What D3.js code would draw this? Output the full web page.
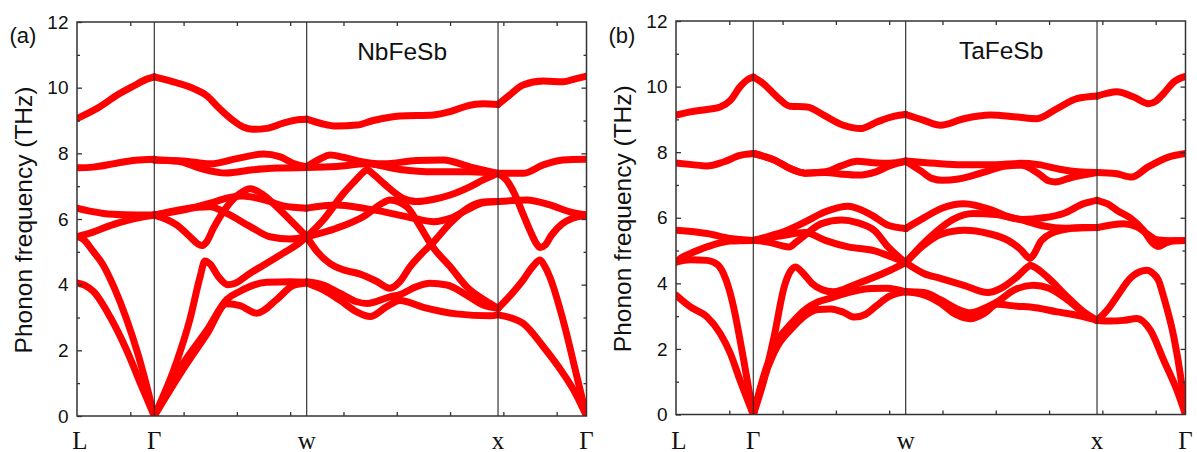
<!DOCTYPE html>
<html>
<head>
<meta charset="utf-8">
<script src="https://cdn.jsdelivr.net/npm/d3@7"></script>
<style>
  html, body { margin: 0; padding: 0; background: #fff; }
  svg { display: block; }
</style>
</head>
<body>
<svg id="chart" width="1197" height="452"></svg>
<script>
// Path through the fcc Brillouin zone: L - Γ - W - X - Γ (k in path units)
const kSym = [0, 1.45, 4.31, 7.90, 9.56];
const kLabels = ["L", "Γ", "w", "x", "Γ"];
const kTicks = [1, 2, 3, 4, 5, 6, 7, 8, 9];
const freqTicks = [0, 2, 4, 6, 8, 10, 12];
const freqMinor = [1, 3, 5, 7, 9, 11];
const compounds = ["NbFeSb", "TaFeSb"];
const panelTags = ["(a)", "(b)"];

// NbFeSb phonon branches, one list per path segment; each branch is [k, THz] pairs
const nbLG = [
  [[0,9.06],[0.43,9.42],[0.74,9.76],[1.06,10.05],[1.31,10.26],[1.45,10.33]],
  [[0,7.56],[0.3,7.58],[0.74,7.7],[1.1,7.79],[1.45,7.82]],
  [[0,6.33],[0.24,6.24],[0.5,6.17],[0.9,6.13],[1.45,6.12]],
  [[0,5.46],[0.3,5.6],[0.62,5.8],[0.93,5.95],[1.2,6.05],[1.45,6.12]],
  [[0,5.46],[0.12,5.38],[0.3,5.02],[0.49,4.6],[0.7,3.9],[0.93,2.95],[1.15,1.85],[1.31,0.9],[1.45,0]],
  [[0,4.05],[0.15,3.98],[0.31,3.79],[0.62,3.02],[0.93,2.01],[1.24,0.8],[1.45,0]]
];
const nbGW = [
  [[1.45,10.33],[1.87,10.15],[2.19,9.97],[2.44,9.75],[2.62,9.45],[2.93,9.0],[3.12,8.8],[3.3,8.73],[3.56,8.76],[3.87,8.92],[4.18,9.03],[4.31,9.04]],
  [[1.45,7.8],[2.0,7.77],[2.5,7.68],[3.0,7.84],[3.5,7.98],[3.8,7.9],[4.05,7.7],[4.31,7.59]],
  [[1.45,7.8],[1.9,7.76],[2.3,7.55],[2.8,7.4],[3.3,7.5],[3.8,7.55],[4.31,7.57]],
  [[1.45,6.12],[1.99,6.27],[2.5,6.48],[2.87,6.66],[3.1,6.7],[3.56,6.56],[3.87,6.4],[4.31,6.33]],
  [[1.45,6.12],[1.87,5.82],[2.12,5.46],[2.26,5.25],[2.34,5.19],[2.43,5.3],[2.56,5.72],[2.81,6.37],[3.06,6.78],[3.25,6.92],[3.5,6.73],[3.75,6.37],[4.0,5.97],[4.31,5.46]],
  [[1.45,6.12],[1.99,6.3],[2.5,6.37],[2.81,6.17],[3.25,5.77],[3.62,5.46],[4.0,5.39],[4.31,5.46]],
  [[1.45,0],[1.87,1.65],[2.12,2.95],[2.31,4.24],[2.4,4.72],[2.5,4.62],[2.65,4.25],[2.83,4.0],[2.95,4.03],[3.25,4.35],[3.56,4.65],[3.87,4.96],[4.12,5.21],[4.31,5.46]],
  [[1.45,0],[1.99,1.6],[2.44,2.62],[2.81,3.55],[3.06,3.8],[3.3,3.98],[3.56,4.07],[4.0,4.09],[4.31,4.07]],
  [[1.45,0],[1.99,1.42],[2.44,2.5],[2.81,3.42],[3.06,3.36],[3.37,3.13],[3.75,3.55],[4.06,3.98],[4.31,4.05]]
];
const nbWX = [
  [[4.31,9.04],[4.6,8.9],[4.87,8.83],[5.25,8.86],[5.56,9.0],[6.06,9.14],[6.69,9.17],[7.0,9.27],[7.31,9.44],[7.62,9.51],[7.9,9.49]],
  [[4.31,7.59],[4.55,7.82],[4.75,7.95],[5.0,7.88],[5.25,7.78],[5.75,7.68],[6.37,7.78],[6.87,7.8],[7.37,7.59],[7.9,7.39]],
  [[4.31,7.57],[4.87,7.6],[5.44,7.68],[6.06,7.51],[6.69,7.44],[7.37,7.44],[7.9,7.39]],
  [[4.31,5.46],[4.62,5.97],[5.0,6.78],[5.25,7.22],[5.37,7.42],[5.44,7.5],[5.55,7.38],[5.75,7.09],[6.12,6.63],[6.37,6.53],[6.7,6.6],[7.0,6.73],[7.37,6.98],[7.62,7.19],[7.9,7.39]],
  [[4.31,6.33],[4.87,6.43],[5.37,6.33],[5.87,6.18],[6.37,6.0],[6.69,5.92],[7.0,6.02],[7.31,6.27],[7.62,6.49],[7.9,6.53]],
  [[4.31,5.46],[4.87,5.72],[5.37,6.07],[5.75,6.5],[5.87,6.58],[6.19,6.37],[6.44,5.77],[6.67,5.16],[7.0,4.55],[7.31,3.94],[7.75,3.43],[7.9,3.28]],
  [[4.31,5.46],[4.5,5.02],[4.75,4.64],[5.0,4.45],[5.3,4.33],[5.6,4.12],[5.87,3.89],[6.05,4.08],[6.25,4.55],[6.5,5.0],[6.69,5.3],[7.0,5.87],[7.37,6.37],[7.62,6.52],[7.9,6.53]],
  [[4.31,4.09],[4.62,3.99],[4.93,3.74],[5.25,3.48],[5.44,3.43],[5.87,3.63],[6.06,3.7],[6.37,3.94],[6.62,4.04],[6.94,3.99],[7.31,3.68],[7.62,3.38],[7.9,3.28]],
  [[4.31,4.05],[4.62,3.84],[4.93,3.53],[5.25,3.17],[5.5,3.03],[5.81,3.33],[6.06,3.52],[6.5,3.31],[7.12,3.11],[7.75,3.05],[7.9,3.08]]
];
const nbXG = [
  [[7.9,9.49],[8.12,9.78],[8.37,10.08],[8.75,10.2],[9.12,10.18],[9.35,10.27],[9.56,10.35]],
  [[7.9,7.39],[8.37,7.39],[8.75,7.65],[9.12,7.8],[9.56,7.82]],
  [[7.9,6.53],[8.44,6.58],[8.87,6.43],[9.25,6.22],[9.56,6.12]],
  [[7.9,7.39],[8.05,7.2],[8.2,6.8],[8.37,6.15],[8.5,5.65],[8.62,5.25],[8.69,5.13],[8.78,5.2],[8.9,5.5],[9.1,5.85],[9.3,6.02],[9.56,6.12]],
  [[7.9,3.28],[8.1,3.62],[8.37,4.14],[8.55,4.55],[8.69,4.75],[8.78,4.55],[8.87,4.24],[9.12,2.92],[9.38,1.2],[9.56,0]],
  [[7.9,3.08],[8.12,3.0],[8.37,2.82],[8.75,2.11],[9.12,1.3],[9.35,0.7],[9.56,0]]
];

// TaFeSb phonon branches
const taLG = [
  [[0,9.13],[0.27,9.23],[0.58,9.3],[0.83,9.38],[1.02,9.58],[1.2,9.99],[1.35,10.22],[1.45,10.29]],
  [[0,7.67],[0.3,7.62],[0.58,7.58],[0.89,7.7],[1.2,7.9],[1.45,7.96]],
  [[0,5.62],[0.58,5.52],[1.02,5.37],[1.45,5.31]],
  [[0,4.65],[0.12,4.8],[0.27,4.91],[0.58,5.11],[1.02,5.29],[1.45,5.31]],
  [[0,4.65],[0.27,4.72],[0.58,4.7],[0.77,4.58],[0.89,4.3],[1.0,3.8],[1.08,3.28],[1.27,1.66],[1.45,0]],
  [[0,3.64],[0.27,3.28],[0.58,2.98],[0.83,2.47],[1.02,1.86],[1.2,1.05],[1.45,0]]
];
const taGW = [
  [[1.45,10.29],[1.64,10.09],[1.9,9.68],[2.14,9.4],[2.46,9.38],[2.77,9.13],[3.14,8.82],[3.46,8.72],[3.77,8.92],[4.1,9.1],[4.31,9.15]],
  [[1.45,7.96],[1.86,7.75],[2.14,7.5],[2.42,7.36],[2.8,7.4],[3.1,7.58],[3.4,7.72],[3.7,7.68],[4.0,7.66],[4.31,7.73]],
  [[1.45,7.96],[1.86,7.75],[2.14,7.5],[2.42,7.36],[2.8,7.38],[3.1,7.33],[3.42,7.3],[3.75,7.4],[4.0,7.58],[4.31,7.72]],
  [[1.45,5.31],[1.77,5.45],[1.98,5.55],[2.42,5.87],[2.8,6.18],[3.23,6.35],[3.67,6.08],[3.98,5.77],[4.31,5.67]],
  [[1.45,5.31],[1.75,5.25],[1.98,5.15],[2.12,5.11],[2.25,5.25],[2.42,5.47],[2.73,5.82],[3.11,5.93],[3.4,5.85],[3.73,5.6],[3.98,5.11],[4.31,4.63]],
  [[1.45,5.31],[1.98,5.45],[2.42,5.55],[2.8,5.31],[3.23,5.11],[3.71,5.0],[4.05,4.8],[4.31,4.63]],
  [[1.45,0],[1.65,1.05],[1.84,2.37],[2.03,3.89],[2.14,4.35],[2.24,4.5],[2.39,4.3],[2.55,4.0],[2.75,3.8],[2.95,3.74],[3.4,3.99],[4.02,4.4],[4.31,4.63]],
  [[1.45,0],[1.66,1.25],[1.91,2.27],[2.16,2.77],[2.41,3.18],[2.66,3.43],[2.9,3.55],[3.15,3.68],[3.4,3.78],[3.65,3.84],[3.95,3.85],[4.31,3.74]],
  [[1.45,0],[1.66,1.15],[1.91,2.1],[2.16,2.6],[2.41,3.0],[2.66,3.2],[2.9,3.22],[3.14,3.12],[3.35,2.97],[3.55,3.05],[3.75,3.3],[4.0,3.6],[4.31,3.74]]
];
const taWX = [
  [[4.31,9.15],[4.65,8.97],[4.96,8.82],[5.4,9.02],[5.9,9.13],[6.4,9.07],[6.77,9.02],[7.15,9.33],[7.52,9.63],[7.9,9.71]],
  [[4.31,7.73],[4.86,7.66],[5.36,7.62],[6.0,7.62],[6.48,7.66],[6.8,7.62],[7.2,7.48],[7.55,7.4],[7.9,7.38]],
  [[4.31,7.72],[4.6,7.42],[4.8,7.2],[5.0,7.14],[5.3,7.18],[5.8,7.4],[6.2,7.58],[6.48,7.6],[6.8,7.35],[7.0,7.12],[7.12,7.09],[7.4,7.22],[7.9,7.38]],
  [[4.31,5.67],[4.6,5.95],[5.0,6.3],[5.4,6.43],[5.9,6.25],[6.2,6.05],[6.52,5.92],[6.9,5.75],[7.3,5.68],[7.9,5.7]],
  [[4.31,4.63],[4.6,5.15],[4.9,5.6],[5.2,5.95],[5.58,6.13],[6.0,6.1],[6.5,5.95],[6.9,6.0],[7.27,6.13],[7.65,6.43],[7.9,6.53]],
  [[4.31,4.63],[4.61,5.11],[4.98,5.5],[5.42,5.62],[5.86,5.52],[6.23,5.31],[6.48,5.01],[6.6,4.8],[6.64,4.76],[6.7,4.85],[6.86,5.31],[7.23,5.62],[7.61,5.7],[7.9,5.7]],
  [[4.31,4.63],[4.65,4.3],[4.96,4.15],[5.4,3.94],[5.85,3.72],[6.1,3.85],[6.4,4.2],[6.6,4.5],[6.65,4.55],[6.72,4.5],[6.96,4.2],[7.34,3.59],[7.65,3.13],[7.9,2.87]],
  [[4.31,3.74],[4.65,3.72],[4.96,3.5],[5.3,3.2],[5.52,3.1],[5.8,3.25],[6.02,3.43],[6.35,3.8],[6.71,3.94],[7.0,3.85],[7.34,3.5],[7.65,3.1],[7.9,2.87]],
  [[4.31,3.74],[4.65,3.65],[4.96,3.4],[5.25,3.05],[5.52,2.92],[5.8,3.1],[6.02,3.36],[6.4,3.3],[6.65,3.28],[7.15,3.13],[7.6,3.0],[7.9,2.87]]
];
const taXG = [
  [[7.9,9.71],[8.1,9.8],[8.27,9.84],[8.59,9.68],[8.87,9.48],[9.0,9.55],[9.15,9.79],[9.34,10.14],[9.56,10.31]],
  [[7.9,7.38],[8.24,7.35],[8.55,7.24],[8.86,7.55],[9.24,7.85],[9.56,7.96]],
  [[7.9,6.53],[8.1,6.42],[8.3,6.2],[8.52,6.0],[8.77,5.62],[8.95,5.22],[9.05,5.12],[9.18,5.22],[9.35,5.3],[9.56,5.31]],
  [[7.9,5.7],[8.4,5.82],[8.65,5.72],[8.85,5.5],[9.02,5.33],[9.3,5.3],[9.56,5.31]],
  [[7.9,2.87],[8.1,3.2],[8.27,3.59],[8.52,4.15],[8.75,4.38],[8.84,4.4],[8.95,4.3],[9.05,4.1],[9.15,3.59],[9.34,2.37],[9.46,1.25],[9.56,0]],
  [[7.9,2.87],[8.15,2.85],[8.4,2.87],[8.65,2.93],[8.9,2.57],[9.15,1.66],[9.4,0.74],[9.56,0]]
];

const svg = d3.select("#chart");
const sans = "'Liberation Sans', Arial, Helvetica, sans-serif";
const serif = "'Liberation Serif', 'Times New Roman', serif";
const frameColor = "#333";

const panels = [
  { id: "a", tag: panelTags[0], name: compounds[0], segments: [nbLG, nbGW, nbWX, nbXG], left: 77, top: 22, bottom: 416 },
  { id: "b", tag: panelTags[1], name: compounds[1], segments: [taLG, taGW, taWX, taXG], left: 676, top: 21, bottom: 414.5 }
];
const plotW = 509.5;

panels.forEach(p => {
  const x = d3.scaleLinear().domain([kSym[0], kSym[kSym.length - 1]]).range([p.left, p.left + plotW]);
  const y = d3.scaleLinear().domain([0, 12]).range([p.bottom, p.top]);
  const g = svg.append("g");

  g.append("clipPath").attr("id", "clip-" + p.id)
    .append("rect")
    .attr("x", p.left).attr("y", p.top)
    .attr("width", plotW).attr("height", p.bottom - p.top);

  // dispersion branches
  const line = d3.line().x(d => x(d[0])).y(d => y(d[1])).curve(d3.curveMonotoneX);
  const bandG = g.append("g").attr("clip-path", `url(#clip-${p.id})`);
  p.segments.forEach(seg => {
    bandG.selectAll(null).data(seg).enter().append("path")
      .attr("d", line)
      .attr("fill", "none")
      .attr("stroke", "#ff0000")
      .attr("stroke-width", 7)
      .attr("stroke-linecap", "round")
      .attr("stroke-linejoin", "round");
  });

  // high-symmetry points
  g.selectAll(null).data(kSym.slice(1, -1)).enter().append("line")
    .attr("x1", d => x(d)).attr("x2", d => x(d))
    .attr("y1", p.top).attr("y2", p.bottom)
    .attr("stroke", "#222").attr("stroke-width", 1.1);

  // axes with inward ticks
  const left = g.append("g").attr("transform", `translate(${p.left},0)`)
    .call(d3.axisLeft(y).tickValues(freqTicks).tickSizeInner(-5).tickSizeOuter(0).tickPadding(8.5));
  g.append("g").attr("transform", `translate(${p.left},0)`)
    .call(d3.axisLeft(y).tickValues(freqMinor).tickSizeInner(-3).tickSizeOuter(0).tickFormat(""));
  g.append("g").attr("transform", `translate(${p.left + plotW},0)`)
    .call(d3.axisRight(y).tickValues(freqTicks.slice(1, -1)).tickSizeInner(-5).tickSizeOuter(0).tickFormat(""));
  g.append("g").attr("transform", `translate(${p.left + plotW},0)`)
    .call(d3.axisRight(y).tickValues(freqMinor).tickSizeInner(-3).tickSizeOuter(0).tickFormat(""));
  g.append("g").attr("transform", `translate(0,${p.bottom})`)
    .call(d3.axisBottom(x).tickValues(kTicks).tickSizeInner(-4).tickSizeOuter(0).tickFormat(""));
  g.append("g").attr("transform", `translate(0,${p.top})`)
    .call(d3.axisTop(x).tickValues(kTicks).tickSizeInner(-4).tickSizeOuter(0).tickFormat(""));

  g.selectAll(".domain").remove();
  g.selectAll(".tick line").attr("stroke", frameColor).attr("stroke-width", 1.3);
  left.selectAll(".tick text")
    .attr("font-family", sans).attr("font-size", 19).attr("fill", "#111");

  g.append("rect")
    .attr("x", p.left).attr("y", p.top)
    .attr("width", plotW).attr("height", p.bottom - p.top)
    .attr("fill", "none").attr("stroke", frameColor).attr("stroke-width", 1.5);

  // k-path labels
  g.selectAll(null).data(kSym).enter().append("text")
    .attr("x", (d, i) => x(d) + (i === 0 ? 3 : 0))
    .attr("y", 448.5)
    .attr("text-anchor", "middle")
    .attr("font-family", serif).attr("font-size", 25).attr("fill", "#111")
    .text((d, i) => kLabels[i]);

  // axis title
  g.append("text")
    .attr("transform", `translate(${p.left - 53.5},${(p.top + p.bottom) / 2 + 1}) rotate(-90)`)
    .attr("text-anchor", "middle")
    .attr("dominant-baseline", "central")
    .attr("font-family", sans).attr("font-size", 24.5).attr("fill", "#111")
    .text("Phonon frequency (THz)");

  // panel tag and compound name
  g.append("text")
    .attr("x", p.left - 67.5).attr("y", 43)
    .attr("font-family", sans).attr("font-size", 22).attr("fill", "#111")
    .text(p.tag);
  g.append("text")
    .attr("x", x(6.1)).attr("y", y(10.85))
    .attr("text-anchor", "middle")
    .attr("font-family", sans).attr("font-size", 24.5).attr("fill", "#111")
    .text(p.name);
});
</script>
</body>
</html>
